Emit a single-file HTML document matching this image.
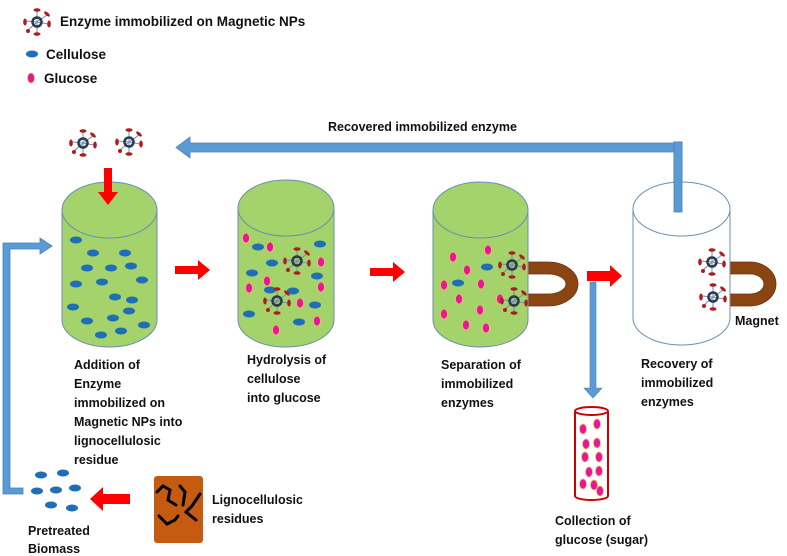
<!DOCTYPE html>
<html><head><meta charset="utf-8"><style>
html,body{margin:0;padding:0;background:#fff;width:787px;height:556px;overflow:hidden}
text{font-family:"Liberation Sans",sans-serif;font-weight:bold;font-size:12.5px;fill:#111}
</style></head><body>
<svg width="787" height="556" viewBox="0 0 787 556" xmlns="http://www.w3.org/2000/svg">
<defs>
<g id="enz">
 <g stroke="#6a8fc0" stroke-width="1"><line x1="0" y1="0" x2="0" y2="-11"/><line x1="0" y1="0" x2="10" y2="-7"/><line x1="0" y1="0" x2="11" y2="2"/><line x1="0" y1="0" x2="0" y2="11"/><line x1="0" y1="0" x2="-9" y2="8"/><line x1="0" y1="0" x2="-11" y2="-1"/></g>
 <g fill="#b01c1c"><ellipse cx="0" cy="-12" rx="3.5" ry="1.8"/><ellipse cx="10" cy="-8" rx="3.5" ry="1.6" transform="rotate(40 10 -8)"/><ellipse cx="12" cy="2" rx="1.8" ry="3.5"/><ellipse cx="0" cy="12" rx="3.5" ry="1.8"/><ellipse cx="-9" cy="9" rx="2" ry="2"/><ellipse cx="-12" cy="0" rx="1.8" ry="3.5"/></g>
 <circle r="4.5" fill="none" stroke="#2f3a44" stroke-width="2.5"/>
</g>
<ellipse id="cel" rx="6" ry="3.5" fill="#1f6fb8"/>
<ellipse id="glu" rx="3.5" ry="5" fill="#e8169b" stroke="#f4c060" stroke-width="0.8"/>
</defs>

<!-- legend -->
<use href="#enz" x="37" y="22"/>
<text x="60" y="26" style="font-size:13.5px">Enzyme immobilized on Magnetic NPs</text>
<use href="#cel" x="32" y="54"/>
<text x="46" y="59" style="font-size:13.5px">Cellulose</text>
<use href="#glu" x="31" y="78"/>
<text x="44" y="83" style="font-size:13.5px">Glucose</text>

<!-- top recovered arrow -->
<text x="328" y="131">Recovered immobilized enzyme</text>
<path d="M674,142 H682 V212 H674 V152 H190 V158 L176,147.5 L190,137 V143 H674 Z" fill="#5b9bd5" stroke="#4a7fb5" stroke-width="0.8"/>

<!-- enzymes above cyl1 -->
<use href="#enz" x="83" y="143"/>
<use href="#enz" x="129" y="142"/>
<path d="M104,168 H112 V192 H118 L108,205 L98,192 H104 Z" fill="#f00"/>

<!-- left feed arrow -->
<path d="M3,243 H40 V238 L52,246 L40,254 V249 H10 V488 H23 V494 H3 Z" fill="#5b9bd5" stroke="#4a7fb5" stroke-width="0.8"/>

<!-- cylinder 1 -->
<path d="M62,210 V320 A47.5,27 0 0 0 157,320 V210 Z" fill="#a3d36a" stroke="#6a8fb0" stroke-width="1"/>
<ellipse cx="109.5" cy="210" rx="47.5" ry="28" fill="#a3d36a" stroke="#6a8fb0"/>
<path d="M104,180 H112 V192 H118 L108,205 L98,192 H104 Z" fill="#f00"/>
<g>
<use href="#cel" x="76" y="240"/><use href="#cel" x="93" y="253"/><use href="#cel" x="125" y="253"/><use href="#cel" x="87" y="268"/><use href="#cel" x="111" y="268"/><use href="#cel" x="131" y="266"/><use href="#cel" x="76" y="284"/><use href="#cel" x="102" y="282"/><use href="#cel" x="142" y="280"/><use href="#cel" x="115" y="297"/><use href="#cel" x="132" y="300"/><use href="#cel" x="73" y="307"/><use href="#cel" x="129" y="311"/><use href="#cel" x="87" y="321"/><use href="#cel" x="113" y="318"/><use href="#cel" x="144" y="325"/><use href="#cel" x="101" y="335"/><use href="#cel" x="121" y="331"/>
</g>
<path d="M175,266 H198 V260 L210,270 L198,280 V274 H175 Z" fill="#f00"/>

<!-- cylinder 2 -->
<path d="M238,210 V320 A48,27 0 0 0 334,320 V210 Z" fill="#a3d36a" stroke="#6a8fb0"/>
<ellipse cx="286" cy="208" rx="48" ry="28" fill="#a3d36a" stroke="#6a8fb0"/>
<use href="#cel" x="258" y="247"/><use href="#cel" x="272" y="263"/><use href="#cel" x="252" y="273"/><use href="#cel" x="317" y="276"/><use href="#cel" x="320" y="244"/><use href="#cel" x="293" y="291"/><use href="#cel" x="249" y="314"/><use href="#cel" x="299" y="322"/><use href="#cel" x="315" y="305"/><use href="#cel" x="270" y="290"/>
<use href="#glu" x="246" y="238"/><use href="#glu" x="270" y="247"/><use href="#glu" x="267" y="281"/><use href="#glu" x="249" y="288"/><use href="#glu" x="321" y="262"/><use href="#glu" x="321" y="287"/><use href="#glu" x="300" y="303"/><use href="#glu" x="317" y="321"/><use href="#glu" x="276" y="330"/>
<use href="#enz" x="297" y="261"/><use href="#enz" x="277" y="301"/>
<path d="M370,268 H393 V262 L405,272 L393,282 V276 H370 Z" fill="#f00"/>

<!-- cylinder 3 + magnet -->
<path d="M528,262 H548 A30,22 0 0 1 548,306 H528 V294 H548 A18,10 0 0 0 548,274 H528 Z" fill="#8b4513" stroke="#6b3410" stroke-width="0.8"/>
<path d="M433,210 V320 A47.5,27 0 0 0 528,320 V210 Z" fill="#a3d36a" stroke="#6a8fb0"/>
<ellipse cx="480.5" cy="210" rx="47.5" ry="28" fill="#a3d36a" stroke="#6a8fb0"/>
<use href="#glu" x="453" y="257"/><use href="#glu" x="488" y="250"/><use href="#glu" x="467" y="270"/><use href="#glu" x="444" y="285"/><use href="#glu" x="481" y="284"/><use href="#glu" x="459" y="299"/><use href="#glu" x="500" y="299"/><use href="#glu" x="444" y="314"/><use href="#glu" x="480" y="310"/><use href="#glu" x="466" y="325"/><use href="#glu" x="486" y="328"/>
<use href="#cel" x="487" y="267"/><use href="#cel" x="458" y="283"/>
<use href="#enz" x="512" y="265"/><use href="#enz" x="514" y="301"/>
<path d="M587,271 H610 V265 L622,276 L610,287 V281 H587 Z" fill="#f00"/>
<path d="M590,282 H596 V388 H602 L593,398 L584,388 H590 Z" fill="#5b9bd5" stroke="#4a7fb5" stroke-width="0.6"/>

<!-- cylinder 4 -->
<path d="M730,262 H750 A26,22 0 0 1 750,306 H730 V294 H750 A14,10 0 0 0 750,274 H730 Z" fill="#8b4513" stroke="#6b3410" stroke-width="0.8"/>
<path d="M633,210 V318 A48.5,27 0 0 0 730,318 V210 Z" fill="#fff" stroke="#6a8fb0"/>
<ellipse cx="681.5" cy="209" rx="48.5" ry="27" fill="#fff" stroke="#6a8fb0"/>
<rect x="674" y="142" width="8" height="70" fill="#5b9bd5" stroke="#4a7fb5" stroke-width="0.8"/>
<use href="#enz" x="712" y="262"/><use href="#enz" x="713" y="297"/>
<text x="735" y="325">Magnet</text>

<!-- test tube -->
<path d="M575,412 V496 A16.5,4 0 0 0 608,496 V412" fill="#fff" stroke="#c00" stroke-width="2"/>
<ellipse cx="591.5" cy="411" rx="16.5" ry="4" fill="#fff" stroke="#c00" stroke-width="2"/>
<use href="#glu" x="583" y="429"/><use href="#glu" x="597" y="424"/><use href="#glu" x="586" y="444"/><use href="#glu" x="597" y="443"/><use href="#glu" x="585" y="457"/><use href="#glu" x="599" y="457"/><use href="#glu" x="589" y="472"/><use href="#glu" x="599" y="471"/><use href="#glu" x="583" y="484"/><use href="#glu" x="594" y="485"/><use href="#glu" x="600" y="491"/>

<!-- bottom left -->
<use href="#cel" x="41" y="475"/><use href="#cel" x="63" y="473"/><use href="#cel" x="37" y="491"/><use href="#cel" x="56" y="490"/><use href="#cel" x="75" y="488"/><use href="#cel" x="51" y="505"/><use href="#cel" x="72" y="508"/>
<path d="M130,494 H103 V487 L90,499 L103,511 V504 H130 Z" fill="#f00"/>
<rect x="154" y="476" width="49" height="67" rx="3" fill="#c55a11"/>
<g stroke="#000" stroke-width="3" fill="none" stroke-linecap="round">
<path d="M157,492 L163,486 L170,490 L168,500 L176,505"/>
<path d="M180,486 L185,492 L183,505"/>
<path d="M200,494 L192,506 L186,512 L196,520"/>
<path d="M159,516 L167,524 L175,520 L178,516"/>
</g>
<text x="212" y="504">Lignocellulosic</text>
<text x="212" y="523">residues</text>
<text x="28" y="535">Pretreated</text>
<text x="28" y="553">Biomass</text>

<!-- labels -->
<text x="74" y="369">Addition of</text>
<text x="74" y="388">Enzyme</text>
<text x="74" y="407">immobilized on</text>
<text x="74" y="426">Magnetic NPs into</text>
<text x="74" y="445">lignocellulosic</text>
<text x="74" y="464">residue</text>
<text x="247" y="364">Hydrolysis of</text>
<text x="247" y="383">cellulose</text>
<text x="247" y="402">into glucose</text>
<text x="441" y="369">Separation of</text>
<text x="441" y="388">immobilized</text>
<text x="441" y="407">enzymes</text>
<text x="641" y="368">Recovery of</text>
<text x="641" y="387">immobilized</text>
<text x="641" y="406">enzymes</text>
<text x="555" y="525">Collection of</text>
<text x="555" y="544">glucose (sugar)</text>
</svg>
</body></html>
